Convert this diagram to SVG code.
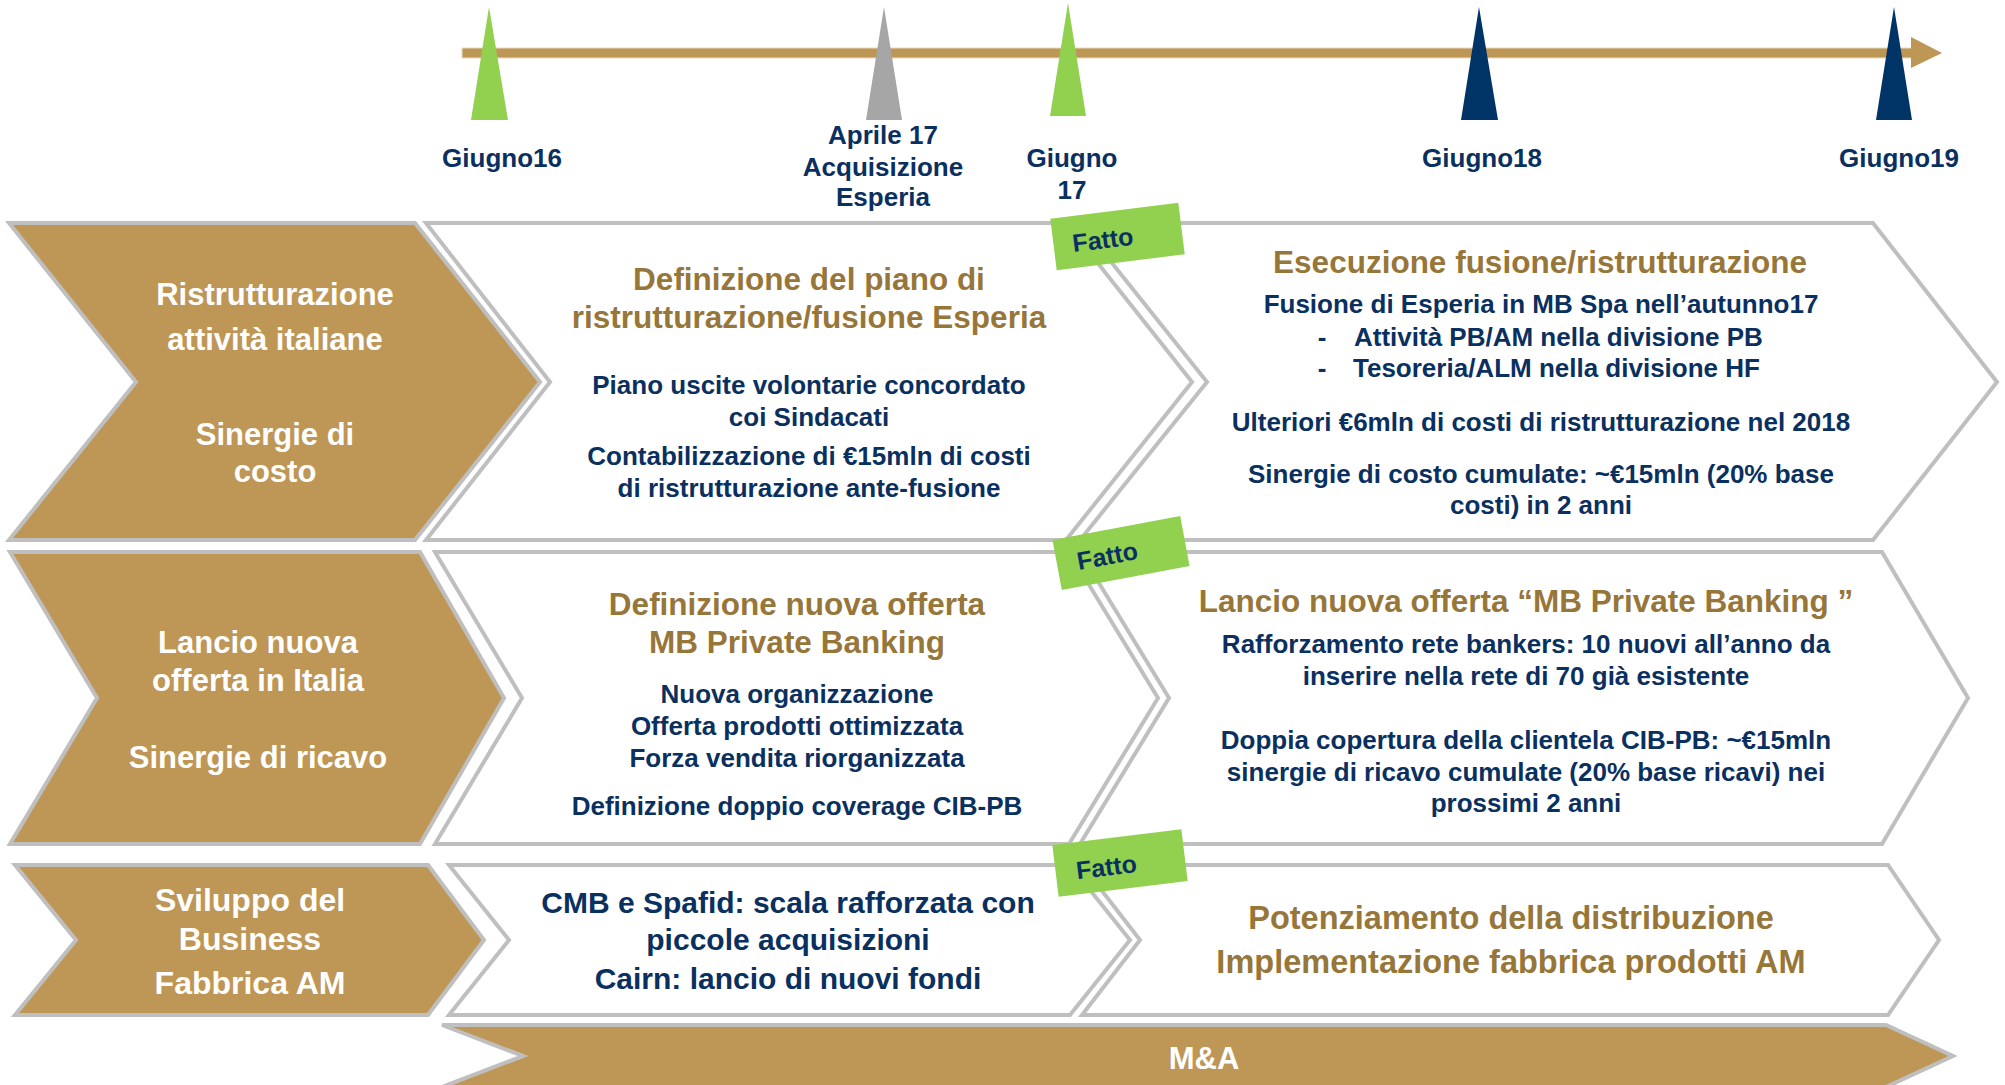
<svg xmlns="http://www.w3.org/2000/svg" width="2005" height="1085" viewBox="0 0 2005 1085">
<style>
text{font-family:"Liberation Sans",Arial,sans-serif;font-weight:bold;text-anchor:middle}
.gold{fill:#BE9656;stroke:#BFBFBF;stroke-width:4;stroke-linejoin:miter}
.white{fill:#FFFFFF;stroke:#BFBFBF;stroke-width:4;stroke-linejoin:miter}
.lbl{fill:#FFFFFF;font-size:31px}
.tl{fill:#0A3060;font-size:26px}
.ttl{fill:#977639;font-size:31.5px}
.body{fill:#0A3060;font-size:26px}
.fatto{fill:#92D050}
.ft{fill:#0A3060;font-size:25px}
</style>
<rect width="2005" height="1085" fill="#FFFFFF"/>

<g id="timeline">
<rect x="462" y="48" width="1450" height="10" fill="#BE9656" stroke="#E9DCC4" stroke-width="1"/>
<polygon points="1911,37 1942,53 1911,68" fill="#BE9656"/>
<polygon points="489,7 508,120 471,120" fill="#92D050"/>
<polygon points="884,7 902,120 866,120" fill="#A6A6A6"/>
<polygon points="1068,3 1086,116 1050,116" fill="#92D050"/>
<polygon points="1479,7 1498,120 1461,120" fill="#003366"/>
<polygon points="1894,7 1912,120 1876,120" fill="#003366"/>
<text class="tl" x="502" y="167">Giugno16</text>
<text class="tl" x="883" y="144">Aprile 17</text>
<text class="tl" x="883" y="176">Acquisizione</text>
<text class="tl" x="883" y="206">Esperia</text>
<text class="tl" x="1072" y="167">Giugno</text>
<text class="tl" x="1072" y="199">17</text>
<text class="tl" x="1482" y="167">Giugno18</text>
<text class="tl" x="1899" y="167">Giugno19</text>
</g>

<g id="row1-label">
<polygon class="gold" points="9,223 415,223 540,382 415,540 9,540 136,382"/>
<text class="lbl" x="275" y="305">Ristrutturazione</text>
<text class="lbl" x="275" y="350">attività italiane</text>
<text class="lbl" x="275" y="445">Sinergie di</text>
<text class="lbl" x="275" y="482">costo</text>
</g>

<g id="row1-phase1">
<polygon class="white" points="426,223 1066,223 1192,382 1066,540 426,540 550,382"/>
<text class="ttl" x="809" y="290">Definizione del piano di</text>
<text class="ttl" x="809" y="328">ristrutturazione/fusione Esperia</text>
<text class="body" x="809" y="394">Piano uscite volontarie concordato</text>
<text class="body" x="809" y="426">coi Sindacati</text>
<text class="body" x="809" y="465">Contabilizzazione di €15mln di costi</text>
<text class="body" x="809" y="497">di ristrutturazione ante-fusione</text>
</g>

<g id="row1-phase2">
<polygon class="white" points="1080,223 1873,223 1997,382 1873,540 1080,540 1207,382"/>
<text class="ttl" x="1540" y="273">Esecuzione fusione/ristrutturazione</text>
<text class="body" x="1541" y="313">Fusione di Esperia in MB Spa nell’autunno17</text>
<text class="body" x="1322" y="346">-</text>
<text class="body" x="1354" y="346" style="text-anchor:start">Attività PB/AM nella divisione PB</text>
<text class="body" x="1322" y="377">-</text>
<text class="body" x="1353" y="377" style="text-anchor:start">Tesoreria/ALM nella divisione HF</text>
<text class="body" x="1541" y="431">Ulteriori €6mln di costi di ristrutturazione nel 2018</text>
<text class="body" x="1541" y="483">Sinergie di costo cumulate: ~€15mln (20% base</text>
<text class="body" x="1541" y="514">costi) in 2 anni</text>
</g>

<g id="row2-label">
<polygon class="gold" points="10,552 420,552 504,698 420,844 10,844 97,698"/>
<text class="lbl" x="258" y="653">Lancio nuova</text>
<text class="lbl" x="258" y="691">offerta in Italia</text>
<text class="lbl" x="258" y="768">Sinergie di ricavo</text>
</g>

<g id="row2-phase1">
<polygon class="white" points="435,552 1069,552 1158,698 1069,844 435,844 522,698"/>
<text class="ttl" x="797" y="615">Definizione nuova offerta</text>
<text class="ttl" x="797" y="653">MB Private Banking</text>
<text class="body" x="797" y="703">Nuova organizzazione</text>
<text class="body" x="797" y="735">Offerta prodotti ottimizzata</text>
<text class="body" x="797" y="767">Forza vendita riorganizzata</text>
<text class="body" x="797" y="815">Definizione doppio coverage CIB-PB</text>
</g>

<g id="row2-phase2">
<polygon class="white" points="1080,552 1882,552 1968,698 1882,844 1080,844 1169,698"/>
<text class="ttl" x="1526" y="612">Lancio nuova offerta “MB Private Banking ”</text>
<text class="body" x="1526" y="653">Rafforzamento rete bankers: 10 nuovi all’anno da</text>
<text class="body" x="1526" y="685">inserire nella rete di 70 già esistente</text>
<text class="body" x="1526" y="749">Doppia copertura della clientela CIB-PB: ~€15mln</text>
<text class="body" x="1526" y="781">sinergie di ricavo cumulate (20% base ricavi) nei</text>
<text class="body" x="1526" y="812">prossimi 2 anni</text>
</g>

<g id="row3-label">
<polygon class="gold" points="15,865 428,865 484,940 428,1015 15,1015 76,940"/>
<text class="lbl" x="250" y="911" style="font-size:32px">Sviluppo del</text>
<text class="lbl" x="250" y="950" style="font-size:32px">Business</text>
<text class="lbl" x="250" y="994" style="font-size:32px">Fabbrica AM</text>
</g>

<g id="row3-phase1">
<polygon class="white" points="449,865 1070,865 1130,940 1070,1015 449,1015 509,940"/>
<text class="body" x="788" y="913" style="font-size:30px">CMB e Spafid: scala rafforzata con</text>
<text class="body" x="788" y="950" style="font-size:30px">piccole acquisizioni</text>
<text class="body" x="788" y="989" style="font-size:30px">Cairn: lancio di nuovi fondi</text>
</g>

<g id="row3-phase2">
<polygon class="white" points="1082,865 1888,865 1939,940 1888,1015 1082,1015 1140,940"/>
<text class="ttl" x="1511" y="929" style="font-size:32.5px">Potenziamento della distribuzione</text>
<text class="ttl" x="1511" y="973" style="font-size:32.5px">Implementazione fabbrica prodotti AM</text>
</g>

<g id="row4-ma">
<polygon class="gold" points="442,1025 1886,1025 1953,1056 1886,1087 442,1087 523,1056"/>
<text class="lbl" x="1204" y="1069" style="font-size:31px">M&amp;A</text>
</g>

<g id="fatto1" transform="translate(1117.5,236.5) rotate(-7.1)">
<rect class="fatto" x="-64.5" y="-26" width="129" height="52"/>
<text class="ft" x="-15" y="10">Fatto</text>
</g>
<g id="fatto2" transform="translate(1121,553) rotate(-10.6)">
<rect class="fatto" x="-65" y="-25.5" width="130" height="51"/>
<text class="ft" x="-14" y="9">Fatto</text>
</g>
<g id="fatto3" transform="translate(1120,863) rotate(-7)">
<rect class="fatto" x="-65" y="-26" width="130" height="52"/>
<text class="ft" x="-14" y="11">Fatto</text>
</g>
</svg>
